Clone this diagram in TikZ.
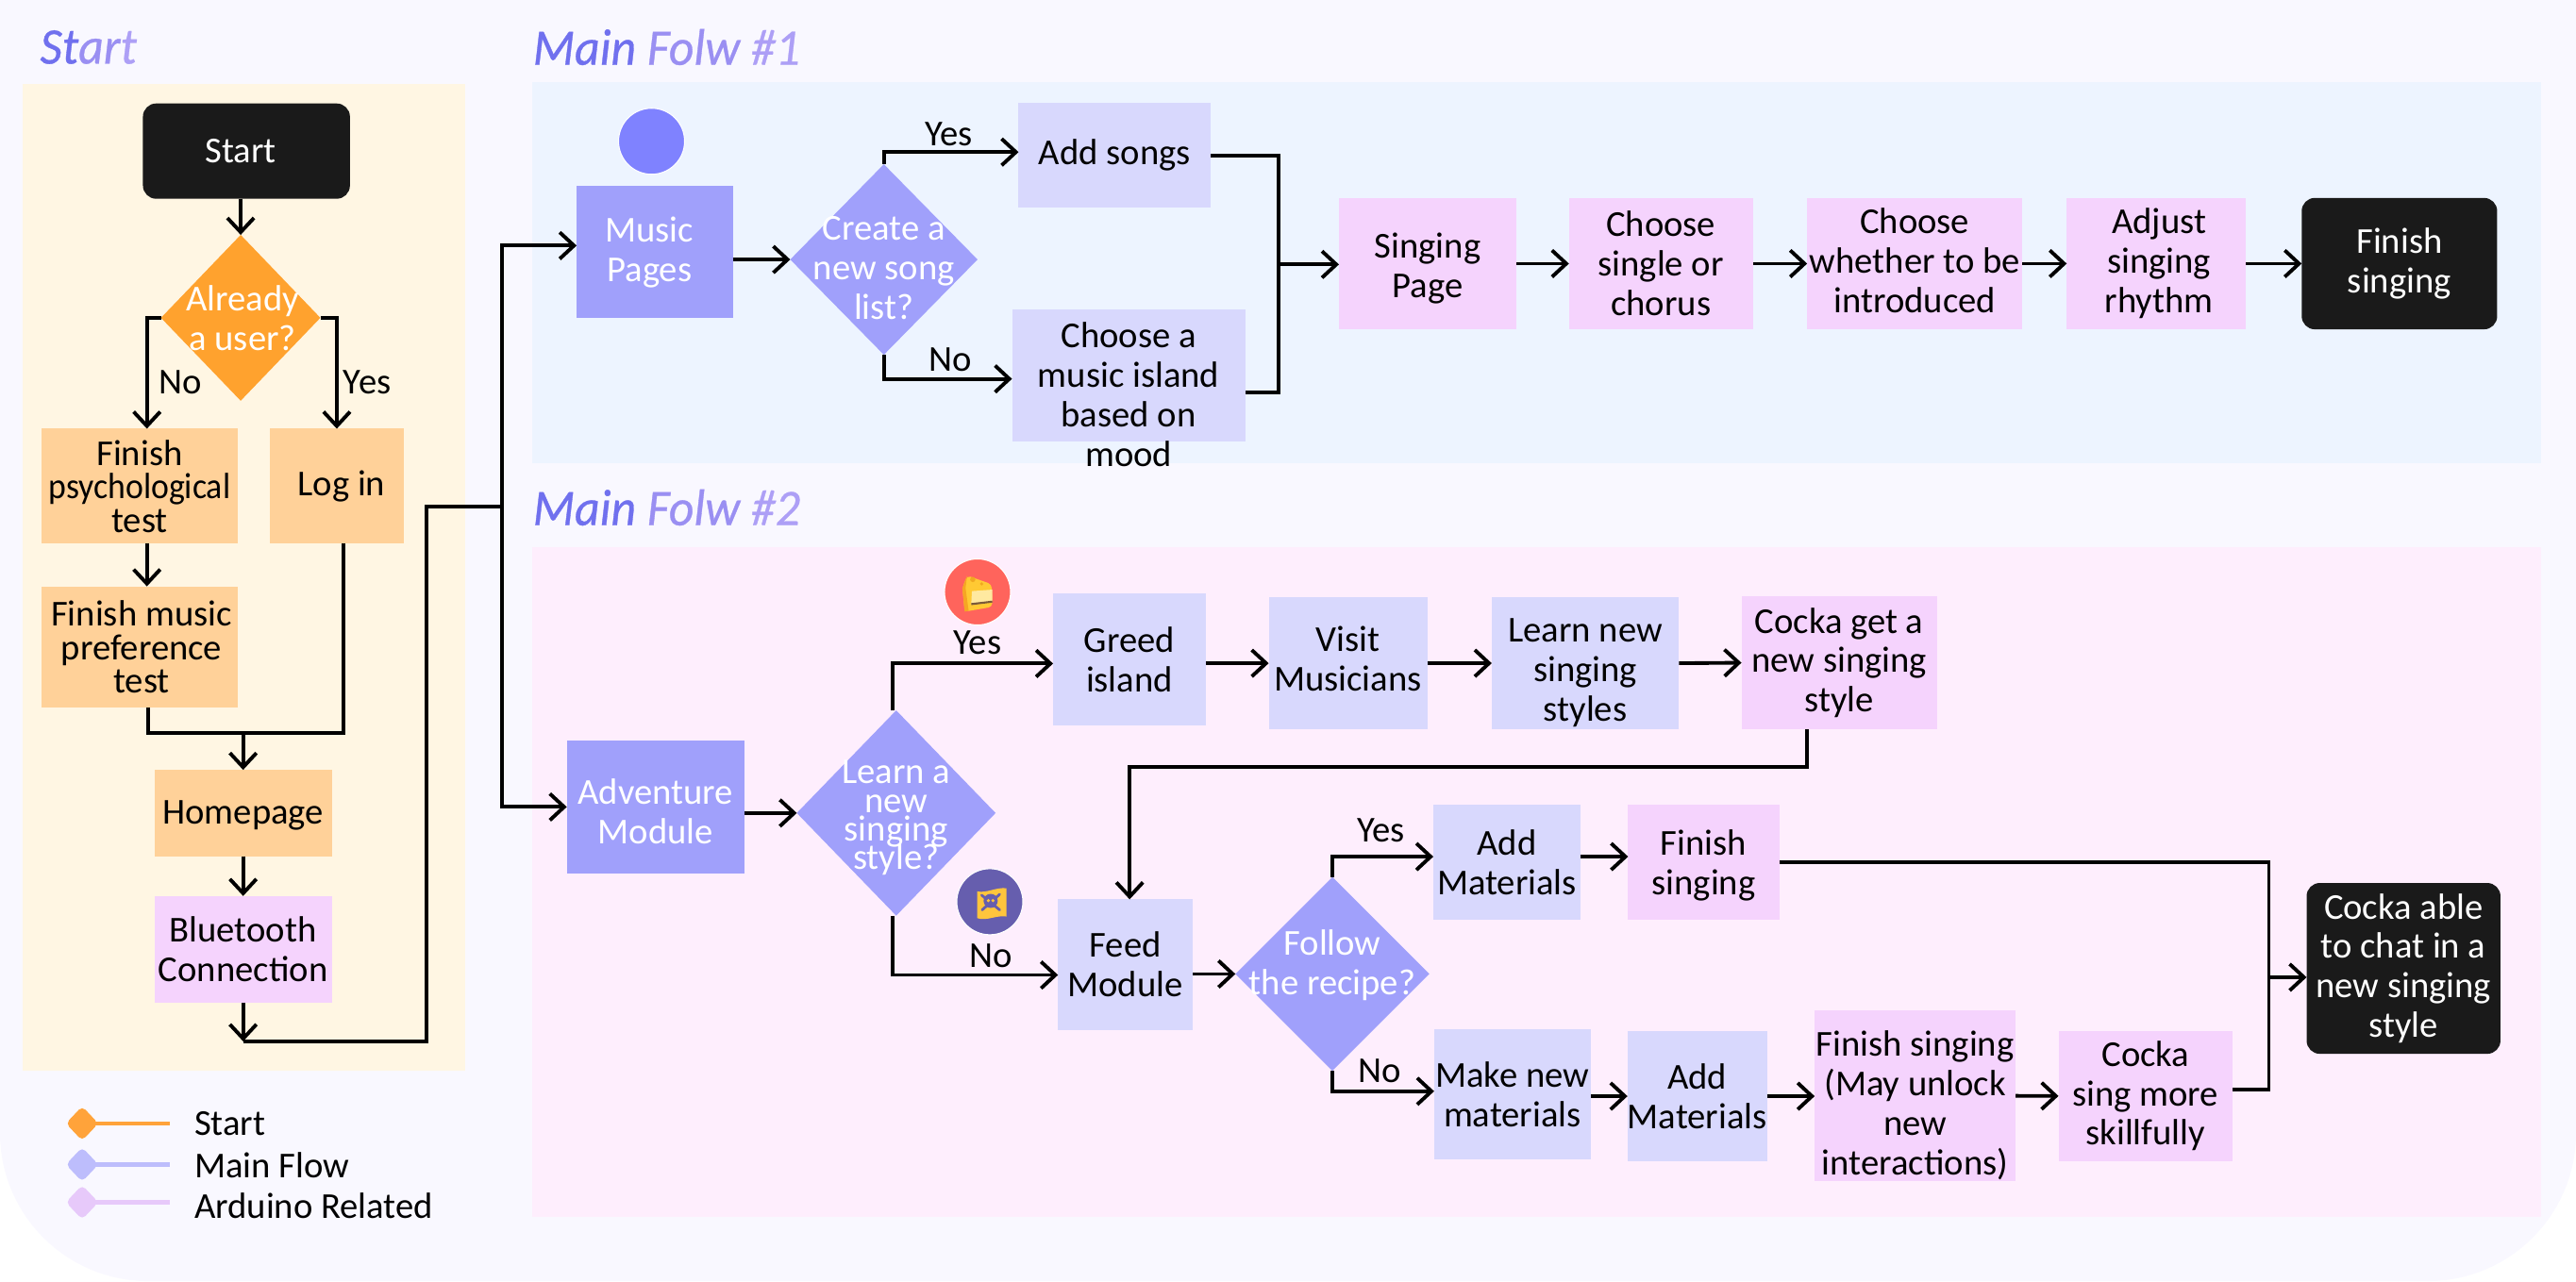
\documentclass[tikz,border=0pt]{standalone}
\usepackage{fontspec}
\setmainfont{Carlito}
\newfontfamily\titlefont[ItalicFont=Carlito Italic,ItalicFeatures={FakeStretch=.95,FakeBold=.6}]{Carlito}
\newcommand\learnfont{\fontsize{11}{8.6}\selectfont\lineskiplimit-10pt\relax}
\usetikzlibrary{arrows.meta,shapes.geometric}

\definecolor{pagebg}{HTML}{F9F8FF}
\definecolor{startpanel}{HTML}{FFF6E3}
\definecolor{flowonepanel}{HTML}{EDF4FF}
\definecolor{flowtwopanel}{HTML}{FEEEFD}
\definecolor{mainfill}{HTML}{A0A0FB}
\definecolor{subfill}{HTML}{D8D8FD}
\definecolor{ardfill}{HTML}{F5D3FD}
\definecolor{startfill}{HTML}{FFD199}
\definecolor{orangefill}{HTML}{FFA22E}
\definecolor{endfill}{HTML}{1A1A1A}
\definecolor{avatarfill}{HTML}{7F82FF}
\definecolor{titlea}{HTML}{7070EE}
\definecolor{titleb}{HTML}{9A8FF2}
\definecolor{titlec}{HTML}{AD9FF6}
\definecolor{legblue}{HTML}{BDBDFC}
\definecolor{legpurple}{HTML}{E7C9FA}
\definecolor{legorange}{HTML}{FFA33A}
\definecolor{cakeball}{HTML}{FF645C}
\definecolor{cakeyellow}{HTML}{FFC933}
\definecolor{cakedark}{HTML}{F5A623}
\definecolor{cakecream}{HTML}{FFE9A0}
\definecolor{cakebrown}{HTML}{7A5A3A}
\definecolor{cakehole}{HTML}{F0A820}
\definecolor{skullball}{HTML}{665EAE}
\definecolor{skullflag}{HTML}{FFC53D}

\tikzset{
  sz/.style 2 args={minimum width=#1*.1741mm,minimum height=#2*.1741mm},
  txt/.style={font=\fontsize{11}{11.9}\selectfont,align=center,inner sep=0pt},
  tighttxt/.style={font=\fontsize{11}{10.1}\selectfont},
  box/.style={txt,rectangle,outer sep=0pt},
  mainbox/.style={box,fill=mainfill,text=white},
  subbox/.style={box,fill=subfill},
  ardbox/.style={box,fill=ardfill},
  startbox/.style={box,fill=startfill},
  endbox/.style={box,fill=endfill,text=white,rounded corners=1.4mm},
  dec/.style={diamond,inner sep=0pt,outer sep=0pt,fill=mainfill},
  dectxt/.style={txt,text=white},
  panel/.style={fill=#1},
  title/.style={font=\titlefont\fontsize{15.5}{18}\selectfont\itshape,anchor=west,inner sep=0pt},
  ball/.style={circle,draw=white,line width=.3pt,inner sep=0pt,minimum size=7mm},
  legmark/.style={diamond,inner sep=0pt,minimum width=3.5mm,minimum height=3.7mm,fill=#1,rounded corners=.5mm},
  legline/.style={line width=1.2pt,draw=#1},
  flow/.style={line width=1.1pt,draw=black},
  arrow/.style={flow,-{Straight Barb[length=4.3pt,width=8pt,line width=1.1pt]}},
}

\begin{document}
\begin{tikzpicture}[x=.01741cm,y=-.01741cm]
\useasboundingbox (0,0) rectangle (1568,780);
\fill[pagebg] (0,0) -- (1568,0) [rounded corners=15.7mm] -- (1568,780) -- (0,780) [sharp corners] -- cycle;
\fill[panel=startpanel] (14,51) rectangle (283,652);
\fill[panel=flowonepanel] (324,50) rectangle (1546.6,282);
\fill[panel=flowtwopanel] (324,333) rectangle (1546.6,741);

\node[title] (starttitle) at (24,28.7) {\textcolor{titlea}{St}\textcolor{titleb}{ar}\textcolor{titlec}{t}};
\node[title] (oneTitle) at (324,28.7) {\textcolor{titlea}{Main} \textcolor{titleb}{Folw} \textcolor{titlec}{\#1}};
\node[title] (twoTitle) at (324,309) {\textcolor{titlea}{Main} \textcolor{titleb}{Folw} \textcolor{titlec}{\#2}};

\node[endbox,sz={126}{58},label={[txt,text=white,xshift=-.6mm]center:Start}] (start) at (150,92) {};
\node[dec,fill=orangefill,sz={97}{101},label={[dectxt,xshift=.2mm]center:Already\\a user?}] (user) at (146.5,193.5) {};
\node[startbox,tighttxt,sz={120}{70}] (psy) at (85,296) {Finish\\\scalebox{.925}[1]{psychological}\\test};
\node[startbox,sz={82}{70},label={[txt,xshift=.5mm]center:Log in}] (login) at (205,296) {};
\node[startbox,tighttxt,sz={120}{74},label={[txt,tighttxt,xshift=.2mm]center:Finish music\\preference\\test}] (pref) at (85,394) {};
\node[startbox,sz={108}{52.5},label={[txt,yshift=-.3mm]center:Homepage}] (home) at (148,495) {};
\node[ardbox,sz={108}{65}] (bt) at (148,578) {Bluetooth\\Connection};
\coordinate (homejoin) at (148,446.4);
\coordinate (btjoin) at (148,634);
\coordinate (uplift) at (259.8,308.5);
\coordinate (trunk) at (305.6,308.5);

\node[txt] (noA) at (110,232.5) {No};
\node[txt] (yesA) at (223.5,232.5) {Yes};

\draw[arrow] (start.south -| user.north) -- (user.north);
\draw[arrow] (user.west) -| ([xshift=.77mm]psy.north);
\draw[arrow] (user.east) -| (login.north);
\draw[arrow] ([xshift=.77mm]psy.south) -- ([xshift=.77mm]pref.north);
\draw[flow] ([xshift=.87mm]pref.south) |- (homejoin);
\draw[flow] ([xshift=.7mm]login.south) |- (homejoin);
\draw[arrow] (homejoin) -- (home.north);
\draw[arrow] (home.south) -- (bt.north);
\draw[arrow] (bt.south) -- (btjoin);
\draw[flow] (btjoin) -| (uplift) -- (trunk);

\node[mainbox,sz={95}{80.5},label={[txt,text=white,xshift=-.55mm,yshift=-.1mm]center:Music\\Pages}] (music) at (398.5,153.25) {};
\node[ball,fill=avatarfill] (avatar) at (396.6,86) {};
\node[dec,sz={114}{116},label={[dectxt,yshift=-.9mm]center:Create a\\new song\\list?}] (create) at (538,158) {};
\node[subbox,sz={117}{64}] (addsongs) at (678.5,94.6) {Add songs};
\node[subbox,sz={142}{80},label={[txt,yshift=-2mm]center:Choose a\\music island\\based on\\mood}] (mood) at (687,228.6) {};
\coordinate (merge) at (778,161);
\node[ardbox,sz={108}{80},label={[txt,yshift=-.5mm]center:Singing\\Page}] (sing) at (869,160.5) {};
\node[ardbox,sz={112}{80}] (single) at (1011,160.5) {Choose\\single or\\chorus};
\node[ardbox,sz={131}{80},label={[txt,yshift=.35mm]center:Choose\\whether to be\\introduced}] (intro) at (1165.5,160.5) {};
\node[ardbox,sz={109}{80},label={[txt,xshift=.3mm]center:Adjust\\singing\\rhythm}] (rhythm) at (1312.5,160.5) {};
\node[endbox,sz={119}{80}] (finA) at (1460.5,160.5) {Finish\\singing};

\node[txt] (yesB) at (577.5,81.5) {Yes};
\node[txt] (noB) at (578.5,219) {No};

\draw[arrow] (trunk) |- ([yshift=.65mm]music.west);
\draw[arrow] (music.east |- create.west) -- (create.west);
\draw[arrow] (create.north) |- ([yshift=.35mm]addsongs.west);
\draw[arrow] (create.south) |- ([yshift=-.36mm]mood.west);
\draw[flow] (addsongs.east) -| (merge);
\draw[flow] ([yshift=-1.8mm]mood.east) -| (merge);
\draw[arrow] (merge) -- (merge -| sing.west);
\draw[arrow] (sing.east) -- (single.west);
\draw[arrow] (single.east) -- (intro.west);
\draw[arrow] (intro.east) -- (rhythm.west);
\draw[arrow] (rhythm.east) -- (finA.west);

\node[mainbox,sz={108}{80.6},label={[txt,text=white,yshift=-.5mm]center:Adventure\\Module}] (adv) at (399,491.3) {};
\node[dec,sz={121}{125},label={[dectxt,yshift=-.5mm,font=\learnfont]center:Learn a\\new\\singing\\style?}] (learn) at (545.5,495) {};
\node[subbox,sz={93}{80.5}] (greed) at (687.5,401.7) {Greed\\island};
\node[subbox,sz={96.5}{80.5},label={[txt,yshift=.5mm]center:Visit\\Musicians}] (visit) at (820.5,403.8) {};
\node[subbox,sz={114}{80.5},label={[txt,yshift=-1mm]center:Learn new\\singing\\styles}] (styles) at (965,403.8) {};
\node[ardbox,sz={119}{81}] (getstyle) at (1119.5,403.5) {Cocka get a\\new singing\\style};
\node[subbox,sz={82}{79.5}] (feed) at (685,587.3) {Feed\\Module};
\node[dec,sz={118}{118},label={[dectxt,yshift=.9mm]center:Follow\\the recipe?}] (follow) at (811,593) {};
\node[subbox,sz={89.5}{70}] (addmatA) at (917.2,525) {Add\\Materials};
\node[ardbox,sz={92}{70},label={[txt,yshift=-.3mm]center:Finish\\singing}] (finB) at (1037,525) {};
\node[subbox,sz={95.3}{79.3}] (makenew) at (920.6,666.3) {Make new\\materials};
\node[subbox,sz={83.2}{79}] (addmatB) at (1033.1,667.4) {Add\\Materials};
\node[ardbox,sz={122.3}{104},label={[txt,yshift=-1mm]center:Finish singing\\(May unlock\\new\\interactions)}] (finC) at (1165.7,667.2) {};
\node[ardbox,sz={106}{79}] (skill) at (1306,667.3) {Cocka\\sing more\\skillfully};
\node[endbox,sz={118}{104}] (able) at (1463,589.6) {Cocka able\\to chat in a\\new singing\\style};
\coordinate (feedup) at (687.6,467);
\coordinate (ablejoin) at (1381,595);

\node[txt] (yesC) at (595,391.5) {Yes};
\node[txt] (noC) at (603,581.7) {No};
\node[txt] (yesD) at (840.7,505.5) {Yes};
\node[txt] (noD) at (840,652) {No};

\draw[arrow] (trunk) |- (adv.west);
\draw[arrow] (adv.east |- learn.west) -- (learn.west);
\draw[arrow] ([xshift=-.38mm]learn.north) |- ([yshift=-.4mm]greed.west);
\draw[arrow] (greed.east |- visit.west) -- (visit.west);
\draw[arrow] (visit.east) -- (styles.west);
\draw[arrow] (styles.east) -- (getstyle.west);
\draw[arrow] ([xshift=-3.4mm]getstyle.south) |- (feedup) -- (feedup |- feed.north);
\draw[arrow] ([xshift=-.38mm]learn.south) |- ([yshift=-1.1mm]feed.west);
\draw[arrow] (feed.east |- follow.west) -- (follow.west);
\draw[arrow] (follow.north) |- ([yshift=.6mm]addmatA.west);
\draw[arrow] ([yshift=.6mm]addmatA.east) -- ([yshift=.6mm]finB.west);
\draw[arrow] (follow.south) |- ([yshift=.33mm]makenew.west);
\draw[arrow] (makenew.east |- addmatB.west) -- (addmatB.west);
\draw[arrow] (addmatB.east) -- (addmatB.east -| finC.west);
\draw[arrow] (finC.east) -- (skill.west);
\draw[flow] (finB.east) -| (ablejoin);
\draw[flow] ([yshift=.68mm]skill.east) -| (ablejoin);
\draw[arrow] (ablejoin) -- (ablejoin -| able.west);

\node[ball,fill=cakeball] (cake) at (595,360.4) {};
\begin{scope}[shift={(cake.center)}]
\fill[cakeyellow,rounded corners=.4mm] (-6.3,-10) -- (8.6,-4.7) -- (9,9.1) -- (-7.8,12) -- (-9.2,-2.4) -- cycle;
\fill[cakedark] (-6.3,-10) -- (-9.2,-2.4) -- (-7.8,12) -- (-5.4,11.4) -- (-7.3,-2.4) -- cycle;
\fill[cakecream] (-3.4,-.5) -- (9,-1.4) -- (9,5.8) -- (-3.8,7.2) -- cycle;
\draw[cakebrown,line width=.6pt] (-3.8,7.4) -- (9,5.9);
\fill[cakehole] (-2.9,-7.6) circle (.28mm) (2.5,-4.9) circle (.18mm);
\end{scope}

\node[ball,fill=skullball] (skull) at (602.5,549) {};
\begin{scope}[shift={(skull.center)}]
\fill[skullflag] (-7.7,-6.3) .. controls (-2,-5) and (4,-9) .. (10.1,-8.2) -- (10.1,9) .. controls (4,8) and (-2,12) .. (-7.7,10) -- cycle;
\draw[skullball,line width=.8pt,line cap=round] (-5,-4) -- (6,5) (6,-4.5) -- (-4.7,5);
\fill[skullball] (.5,-.5) circle (.75mm);
\fill[skullflag] (-.9,-.7) circle (.18mm) (1.9,-.7) circle (.18mm);
\end{scope}

\node[legmark=legorange] (legA) at (50,684) {};
\coordinate (legAend) at (103.5,684);
\node[legmark=legblue] (legB) at (50,709) {};
\coordinate (legBend) at (103.5,709);
\node[legmark=legpurple] (legC) at (50,732) {};
\coordinate (legCend) at (103.5,732);
\draw[legline=legorange] (legA.center) -- (legAend);
\draw[legline=legblue] (legB.center) -- (legBend);
\draw[legline=legpurple] (legC.center) -- (legCend);
\node[txt,anchor=west] (legAtxt) at (118,684) {Start};
\node[txt,anchor=west] (legBtxt) at (118,709.5) {Main Flow};
\node[txt,anchor=west] (legCtxt) at (118,734) {Arduino Related};
\end{tikzpicture}
\end{document}
